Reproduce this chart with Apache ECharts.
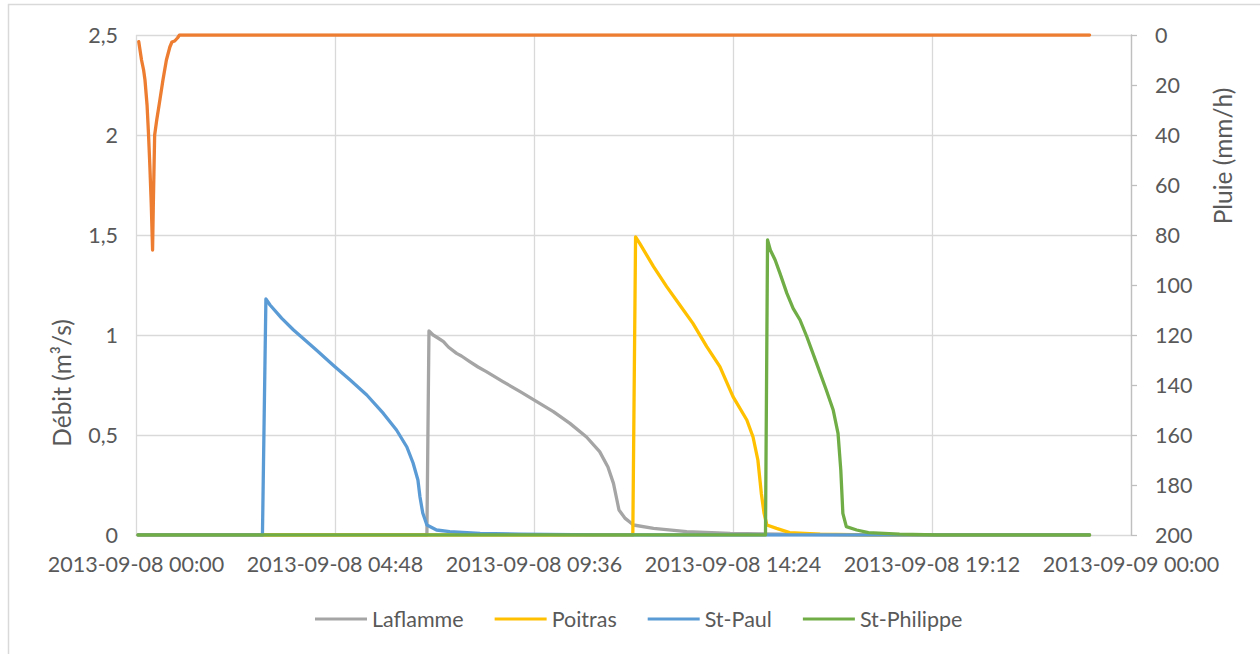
<!DOCTYPE html>
<html>
<head>
<meta charset="utf-8">
<title>Débit et pluie — 2013-09-08</title>
<script src="https://cdn.jsdelivr.net/npm/echarts@6/dist/echarts.min.js"></script>
<style>
  html, body { margin: 0; padding: 0; background: #ffffff; }
  #chart { width: 1260px; height: 654px; }
</style>
</head>
<body>
<div id="chart"></div>
<script>
// Time is in minutes after 2013-09-08 00:00; flows in m³/s, rain in mm/h.
const xTickLabels = [
  '2013-09-08 00:00', '2013-09-08 04:48', '2013-09-08 09:36',
  '2013-09-08 14:24', '2013-09-08 19:12', '2013-09-09 00:00'
];
const leftTickLabels = ['0', '0,5', '1', '1,5', '2', '2,5'];

const laflamme = [
  [3, 0], [421, 0], [424, 1.02], [430, 1.0], [437, 0.985], [445, 0.967],
  [452, 0.94], [464, 0.908], [471, 0.895], [483, 0.867], [495, 0.84],
  [507, 0.817], [531, 0.767], [556, 0.717], [580, 0.667], [604, 0.617],
  [628, 0.558], [652, 0.49], [671, 0.417], [683, 0.34], [691, 0.258],
  [696, 0.175], [699, 0.125], [708, 0.083], [720, 0.05], [749, 0.033],
  [797, 0.017], [860, 0.008], [961, 0.003], [1060, 0], [1380, 0]
];
const poitras = [
  [3, 0], [719, 0], [723, 1.49], [729, 1.458], [749, 1.342], [768, 1.242],
  [787, 1.15], [806, 1.058], [826, 0.942], [845, 0.842], [864, 0.692],
  [884, 0.575], [893, 0.49], [900, 0.375], [905, 0.208], [909, 0.108],
  [913, 0.05], [927, 0.033], [946, 0.012], [990, 0.004], [1060, 0], [1380, 0]
];
const stPaul = [
  [3, 0], [183, 0], [188, 1.18], [194, 1.15], [211, 1.083], [228, 1.025],
  [261, 0.925], [285, 0.85], [310, 0.775], [334, 0.70], [358, 0.608],
  [377, 0.525], [392, 0.44], [401, 0.36], [408, 0.275], [411, 0.19],
  [415, 0.11], [421, 0.05], [435, 0.025], [454, 0.017], [498, 0.008],
  [556, 0.004], [671, 0.001], [760, 0], [1380, 0]
];
const stPhilippe = [
  [3, 0], [911, 0], [914, 1.475], [918, 1.425], [925, 1.375], [932, 1.308],
  [942, 1.208], [951, 1.133], [961, 1.075], [971, 0.99], [985, 0.858],
  [999, 0.725], [1009, 0.625], [1016, 0.508], [1020, 0.325], [1023, 0.108],
  [1028, 0.042], [1043, 0.025], [1060, 0.012], [1105, 0.004], [1160, 0], [1380, 0]
];
const pluie = [
  [4, 2.7], [8, 10], [11, 14], [13, 18], [16, 28], [18, 39], [20, 52],
  [22, 67], [24, 86], [25, 69], [27, 40], [30, 34], [34, 27], [39, 18],
  [44, 10], [49, 4.8], [52, 2.8], [56, 2.4], [60, 1.2], [63, 0], [1380, 0]
];

const FONT = 'Lato, "Open Sans", sans-serif';
const TEXT = '#595959';
const GRID = '#D9D9D9';
const LINE_W = 3.3;

const chart = echarts.init(document.getElementById('chart'), null, { renderer: 'svg' });

function flowSeries(name, data, color) {
  return {
    name: name,
    type: 'line',
    data: data,
    xAxisIndex: 0,
    yAxisIndex: 0,
    showSymbol: false,
    symbol: 'none',
    lineStyle: { width: LINE_W, color: color, cap: 'round', join: 'round' },
    itemStyle: { color: color },
    animation: false
  };
}

chart.setOption({
  backgroundColor: '#ffffff',
  animation: false,
  textStyle: { fontFamily: FONT },
  grid: { left: 136, right: 129, top: 35, bottom: 119, containLabel: false },
  legend: {
    data: ['Laflamme', 'Poitras', 'St-Paul', 'St-Philippe'],
    left: 310,
    top: 603,
    icon: 'rect',
    itemWidth: 52,
    itemHeight: 3,
    itemGap: 31,
    textStyle: { color: TEXT, fontSize: 21.5, fontFamily: FONT }
  },
  xAxis: {
    type: 'value',
    min: 0,
    max: 1440,
    interval: 288,
    axisLine: { show: true, lineStyle: { color: GRID, width: 1 } },
    axisTick: { show: false },
    splitLine: { show: true, lineStyle: { color: GRID, width: 1.3 } },
    axisLabel: {
      color: TEXT,
      fontSize: 21.5,
      fontFamily: FONT,
      margin: 18,
      showMinLabel: true,
      showMaxLabel: true,
      formatter: v => xTickLabels[Math.round(v / 288)] || ''
    }
  },
  yAxis: [
    {
      type: 'value',
      min: 0,
      max: 2.5,
      interval: 0.5,
      position: 'left',
      axisLine: { show: false },
      axisTick: { show: false },
      splitLine: { show: true, lineStyle: { color: GRID, width: 1.3 } },
      axisLabel: {
        color: TEXT,
        fontSize: 21.5,
        fontFamily: FONT,
        margin: 18,
        formatter: v => leftTickLabels[Math.round(v / 0.5)]
      }
    },
    {
      type: 'value',
      min: 0,
      max: 200,
      interval: 20,
      inverse: true,
      position: 'right',
      axisLine: { show: true, lineStyle: { color: '#BFBFBF', width: 1.3 } },
      axisTick: { show: true, inside: false, length: 6, lineStyle: { color: '#BFBFBF', width: 1.3 } },
      splitLine: { show: false },
      axisLabel: {
        color: TEXT,
        fontSize: 21.5,
        fontFamily: FONT,
        margin: 24,
        align: 'left'
      }
    }
  ],
  graphic: [
    {
      type: 'rect',
      silent: true,
      shape: { x: 8.5, y: 4.5, width: 1400, height: 800 },
      style: { fill: 'none', stroke: '#D9D9D9', lineWidth: 1.5 },
      z: -10
    },
    {
      type: 'text',
      silent: true,
      x: 61,
      y: 383,
      rotation: Math.PI / 2,
      style: {
        text: 'Débit (m³/s)',
        fill: TEXT,
        font: '24.5px ' + FONT,
        align: 'center',
        verticalAlign: 'middle'
      }
    },
    {
      type: 'text',
      silent: true,
      x: 1222,
      y: 156,
      rotation: Math.PI / 2,
      style: {
        text: 'Pluie (mm/h)',
        fill: TEXT,
        font: '24.5px ' + FONT,
        align: 'center',
        verticalAlign: 'middle'
      }
    }
  ],
  series: [
    flowSeries('Laflamme', laflamme, '#A5A5A5'),
    flowSeries('Poitras', poitras, '#FFC000'),
    flowSeries('St-Paul', stPaul, '#5B9BD5'),
    flowSeries('St-Philippe', stPhilippe, '#70AD47'),
    {
      name: 'Pluie',
      type: 'line',
      data: pluie,
      xAxisIndex: 0,
      yAxisIndex: 1,
      showSymbol: false,
      symbol: 'none',
      lineStyle: { width: LINE_W, color: '#ED7D31', cap: 'round', join: 'round' },
      itemStyle: { color: '#ED7D31' },
      animation: false,
      z: 3
    }
  ]
});
</script>
</body>
</html>
